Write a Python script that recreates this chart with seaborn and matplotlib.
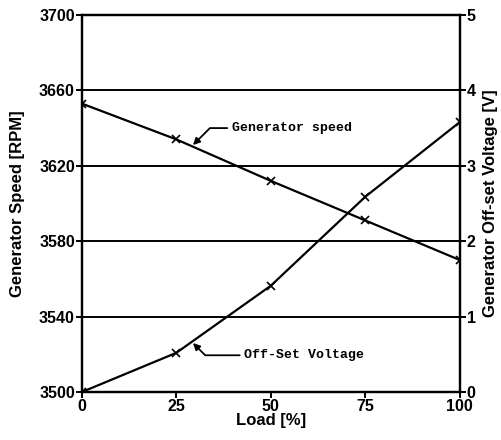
import matplotlib
matplotlib.use("Agg")
import matplotlib.pyplot as plt
import seaborn as sns
import pandas as pd

# 数据
load = [0, 25, 50, 75, 100]
speed_rpm = [3653, 3634, 3612, 3591, 3570]
offset_voltage = [0.0, 0.52, 1.41, 2.59, 3.58]

speed_ticks = [3500, 3540, 3580, 3620, 3660, 3700]
voltage_ticks = [0, 1, 2, 3, 4, 5]
load_ticks = [0, 25, 50, 75, 100]

sns.set_style("ticks")
plt.rcParams['font.family'] = ['Liberation Sans', 'DejaVu Sans']
plt.rcParams['text.color'] = 'black'
plt.rcParams['axes.labelcolor'] = 'black'
plt.rcParams['xtick.color'] = 'black'
plt.rcParams['ytick.color'] = 'black'

df = pd.DataFrame({'load': load, 'speed': speed_rpm, 'volt': offset_voltage})

fig = plt.figure(figsize=(5.02, 4.4), dpi=100)
ax = fig.add_axes([0.163, 0.109, 0.753, 0.857])

# 发电机转速
sns.lineplot(data=df, x='load', y='speed', ax=ax, color='black', linewidth=1.6,
             marker='x', markersize=6, markeredgewidth=1.2, markeredgecolor='black')
ax.set_xlim(0, 100)
ax.set_ylim(3500, 3700)
ax.set_yticks(speed_ticks)
ax.set_xticks(load_ticks)
for y in speed_ticks[1:-1]:
    ax.axhline(y, color='black', linewidth=1.4, zorder=0)

ax.set_xlabel('Load [%]', fontsize=12, fontweight='bold', labelpad=-1)
ax.set_ylabel('Generator Speed [RPM]', fontsize=12, fontweight='bold', labelpad=10)
ax.tick_params(axis='both', labelsize=11.5, width=1.4, length=4, pad=1)
for lbl in ax.get_xticklabels() + ax.get_yticklabels():
    lbl.set_fontweight('bold')

# 偏置电压（右轴）
ax2 = ax.twinx()
sns.lineplot(data=df, x='load', y='volt', ax=ax2, color='black', linewidth=1.6,
             marker='x', markersize=6, markeredgewidth=1.2, markeredgecolor='black')
ax2.set_ylim(0, 5)
ax2.set_yticks(voltage_ticks)
ax2.set_ylabel('Generator Off-set Voltage [V]', fontsize=12, fontweight='bold', labelpad=5)
ax2.tick_params(axis='y', labelsize=11.5, width=1.4, length=4, pad=1)
for lbl in ax2.get_yticklabels():
    lbl.set_fontweight('bold')

for a in (ax, ax2):
    for side in a.spines.values():
        side.set_linewidth(1.6)
        side.set_color('black')

# 标注
mono = ['Liberation Mono', 'DejaVu Sans Mono']
ax.annotate('Generator speed', xy=(29.4, 3631), xytext=(39.7, 3640),
            fontsize=9.5, fontweight='bold', family=mono, va='center', ha='left',
            color='black',
            arrowprops=dict(arrowstyle='-|>', color='black', lw=1.3,
                            connectionstyle='angle,angleA=0,angleB=45,rad=0',
                            shrinkA=1, shrinkB=0, mutation_scale=10))
ax.annotate('Off-Set Voltage', xy=(29.4, 3526), xytext=(43, 3519.5),
            fontsize=9.5, fontweight='bold', family=mono, va='center', ha='left',
            color='black',
            arrowprops=dict(arrowstyle='-|>', color='black', lw=1.3,
                            connectionstyle='angle,angleA=0,angleB=-45,rad=0',
                            shrinkA=1, shrinkB=0, mutation_scale=10))

fig.savefig('out.png', dpi=100)
